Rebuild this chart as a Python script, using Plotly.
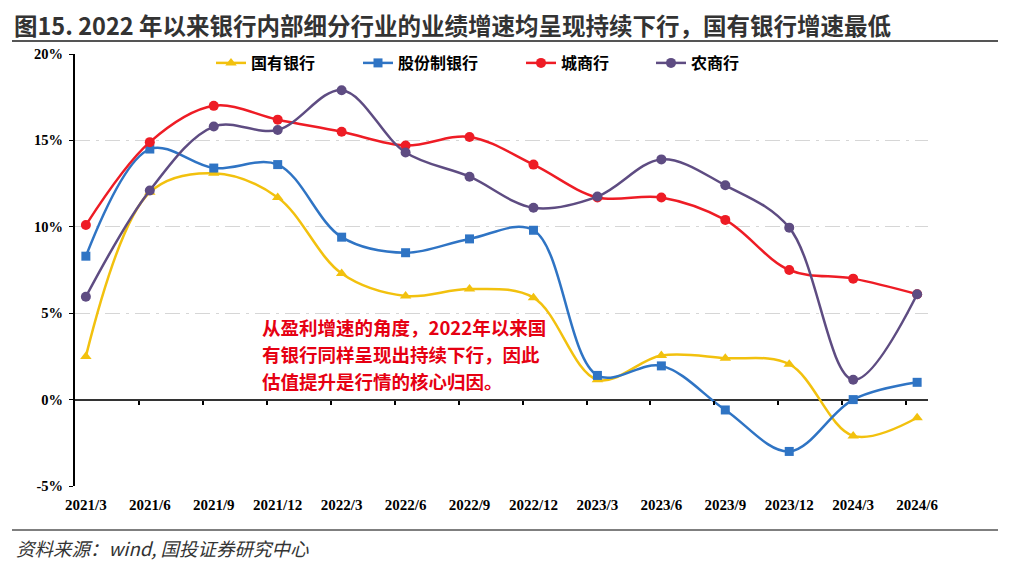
import plotly.graph_objects as go

categories = ["2021/3", "2021/6", "2021/9", "2021/12", "2022/3", "2022/6", "2022/9",
              "2022/12", "2023/3", "2023/6", "2023/9", "2023/12", "2024/3", "2024/6"]

state_banks = [2.5, 12.0, 13.1, 11.7, 7.3, 6.0, 6.4, 5.9, 1.15, 2.55, 2.4, 2.05, -2.1, -1.05]
joint_stock = [8.3, 14.5, 13.4, 13.6, 9.4, 8.5, 9.3, 9.8, 1.4, 1.95, -0.6, -3.0, 0.0, 1.0]
city_banks = [10.1, 14.9, 17.0, 16.2, 15.5, 14.7, 15.2, 13.6, 11.7, 11.7, 10.4, 7.5, 7.0, 6.1]
rural_banks = [5.95, 12.1, 15.8, 15.6, 17.9, 14.3, 12.9, 11.1, 11.75, 13.9, 12.4, 9.95, 1.15, 6.1]

series_names = ["国有银行", "股份制银行", "城商行", "农商行"]
series_values = [state_banks, joint_stock, city_banks, rural_banks]
colors = ["#F2C10E", "#2F74C4", "#EE1C25", "#5E4C82"]
symbols = ["triangle-up", "square", "circle", "circle"]
marker_sizes = [10, 9, 10, 10]

y_ticks = [-5, 0, 5, 10, 15, 20]
y_tick_labels = ["-5%", "0%", "5%", "10%", "15%", "20%"]

title_text = "图15. 2022 年以来银行内部细分行业的业绩增速均呈现持续下行，国有银行增速最低"
note_lines = ["从盈利增速的角度，2022年以来国", "有银行同样呈现出持续下行，因此", "估值提升是行情的核心归因。"]
source_text = "资料来源：wind, 国投证券研究中心"

# page-pixel layout helpers (the page body adds an 8px offset)
OFF = 8
PL, PR, PT, PB = 75, 928, 54, 486   # plot area edges in page pixels


def px_x(p):
    return (p - PL) / (PR - PL)


def px_y(p):
    return (PB - p) / (PB - PT)


idx = list(range(len(categories)))
x_range = [-0.17, len(categories) - 1 + 0.17]

legend_names = ["legend", "legend2", "legend3", "legend4"]
legend_x_px = [211, 358, 521, 651]

fig = go.Figure()
for name, vals, c, s, ms, lg in zip(series_names, series_values, colors, symbols, marker_sizes, legend_names):
    fig.add_trace(go.Scatter(
        x=idx, y=vals, name=name, mode="lines+markers",
        line=dict(color=c, width=2.5, shape="spline", smoothing=1.0),
        marker=dict(symbol=s, size=ms, color=c),
        hoverinfo="skip", legend=lg,
    ))

# helper trace for the tick axis on the zero line
fig.add_trace(go.Scatter(x=[x_range[0]], y=[None], xaxis="x2", yaxis="y",
                         showlegend=False, hoverinfo="skip", mode="lines"))

tick_font = dict(family="Liberation Serif", color="#000000", weight="bold")

W, H = 1024, 573
fig.update_layout(
    width=W, height=H,
    paper_bgcolor="white", plot_bgcolor="white",
    margin=dict(l=PL - OFF, r=W - (PR - OFF), t=PT - OFF, b=H - (PB - OFF)),
    xaxis=dict(
        range=x_range, tickmode="array", tickvals=idx, ticktext=categories,
        showgrid=False, zeroline=False, showline=False, ticks="",
        tickfont=dict(size=15, **tick_font), ticklabelstandoff=8,
    ),
    xaxis2=dict(
        range=x_range, overlaying="x", anchor="free", position=0.2,
        tickmode="array", tickvals=[k - 0.17 for k in range(1, len(categories))],
        ticks="outside", ticklen=4, tickwidth=1.5, tickcolor="#000000",
        showticklabels=False, showgrid=False, zeroline=False, showline=False,
    ),
    yaxis=dict(
        range=[-5, 20], tickmode="array", tickvals=y_ticks, ticktext=y_tick_labels,
        showgrid=True, gridcolor="#D6D6D6", gridwidth=1, griddash="longdashdot",
        zeroline=True, zerolinecolor="#333333", zerolinewidth=2,
        showline=True, linecolor="#000000", linewidth=2,
        ticks="outside", ticklen=4, tickcolor="#000000",
        tickfont=dict(size=14.5, **tick_font), ticklabelstandoff=3,
    ),
    showlegend=True,
)

# title as a paper annotation (placed in page pixels)
fig.add_annotation(
    xref="paper", yref="paper", x=px_x(12), y=px_y(25),
    xanchor="left", yanchor="middle", showarrow=False, text=title_text,
    font=dict(family="Noto Sans CJK SC", size=23.5, color="#333333", weight="bold"),
)

legend_font = dict(family="Noto Sans CJK SC", size=16, color="#000000", weight="bold")
for lg, lx in zip(legend_names, legend_x_px):
    fig.update_layout({lg: dict(
        orientation="h", x=px_x(lx), xanchor="left", y=px_y(63), yanchor="middle",
        font=legend_font, bgcolor="rgba(0,0,0,0)", itemwidth=30,
    )})

for i, line in enumerate(note_lines):
    fig.add_annotation(
        xref="paper", yref="paper", x=px_x(260), y=px_y(327 + 27 * i),
        xanchor="left", yanchor="middle", showarrow=False, text=line, align="left",
        font=dict(family="Noto Sans CJK SC", size=18.5, color="#E60012", weight="bold"),
    )

fig.add_annotation(
    xref="paper", yref="paper", x=px_x(14), y=px_y(548),
    xanchor="left", yanchor="middle", showarrow=False, text="<i>" + source_text + "</i>",
    font=dict(family="Noto Sans CJK SC", size=18.5, color="#333333"),
)

for ypix, w in [(41, 2), (530, 1.5)]:
    fig.add_shape(type="line", xref="paper", yref="paper",
                  x0=px_x(12), x1=px_x(998), y0=px_y(ypix), y1=px_y(ypix),
                  line=dict(color="#555555", width=w))

fig.write_html("out.html")
